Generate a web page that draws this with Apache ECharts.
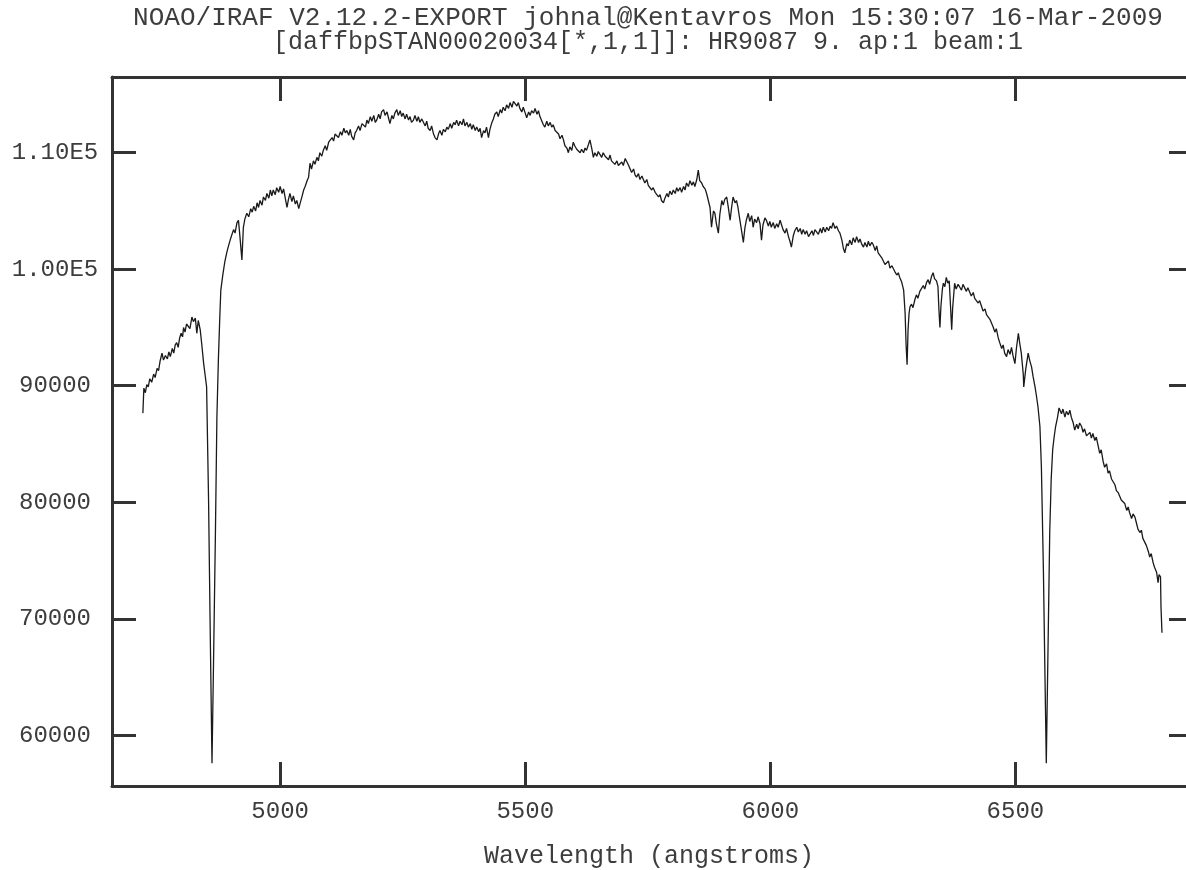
<!DOCTYPE html>
<html>
<head>
<meta charset="utf-8">
<script src="https://cdn.jsdelivr.net/npm/echarts@6/dist/echarts.min.js"></script>
<style>
  html, body { margin: 0; padding: 0; background: #ffffff; }
  #chart { width: 1186px; height: 870px; }
</style>
</head>
<body>
<div id="chart"></div>
<script>
// Header lines of the IRAF splot plot
const titleLines = [
  'NOAO/IRAF V2.12.2-EXPORT johnal@Kentavros Mon 15:30:07 16-Mar-2009',
  '[daffbpSTAN00020034[*,1,1]]: HR9087 9. ap:1 beam:1'
];
const xAxisName = 'Wavelength (angstroms)';

// Axis extents and tick positions
const xRange = [4657, 6848];
const yRange = [55648, 116498];
const xTicks = [5000, 5500, 6000, 6500];
const yTicks = [60000, 70000, 80000, 90000, 100000, 110000];

// Spectrum of HR9087: [wavelength (A), counts]
const spectrumBlue = [
  [4720,87650],[4722,89800],[4725,89400],[4728,90100],[4731,89900],[4734,90600],[4738,90300],[4742,91000],
  [4745,90700],[4749,91500],[4752,91300],[4755,92100],[4759,92800],[4762,92200],[4766,92600],[4770,92300],
  [4773,92900],[4776,92500],[4780,93200],[4783,92800],[4786,93500],[4789,93700],[4792,93300],[4795,94100],
  [4798,94500],[4801,94200],[4803,95000],[4806,94600],[4809,95300],[4813,95200],[4816,94900],[4820,95900],
  [4823,95500],[4827,95800],[4830,94500],[4833,95600],[4837,94800],[4840,93600],[4844,91900],[4847,90900],
  [4850,89900],[4854,80200],[4857,70100],[4861,57600],[4864,65900],[4868,77400],[4871,87300],[4874,92200],
  [4877,96000],[4879,98200],[4883,99500],[4887,100600],[4891,101400],[4894,101900],[4898,102500],[4901,102900],
  [4905,103400],[4908,103100],[4912,104000],[4915,104200],[4918,102800],[4922,100800],[4925,103600],[4928,104300],
  [4932,104800],[4936,104500],[4940,105200],[4943,104900],[4946,105400],[4950,105000],[4953,105700],[4956,105300],
  [4959,105900],[4963,105500],[4966,106200],[4970,105900],[4973,106500],[4977,106100],[4980,106800],[4983,106300],
  [4986,106800],[4990,106400],[4993,107000],[4997,106600],[5000,107100],[5004,106500],[5007,106900],[5010,106200],
  [5014,105300],[5017,106000],[5020,106500],[5024,105800],[5027,106300],[5031,105600],[5034,105900],[5038,105200],
  [5041,105700],[5045,106300],[5048,106800],[5051,107100],[5055,107600],[5058,107900],[5061,109100],[5064,108600],
  [5068,109300],[5071,109000],[5075,109600],[5078,109300],[5081,110000],[5085,109700],[5088,110200],[5092,110600],
  [5095,110200],[5099,110900],[5102,110800],[5106,111300],[5109,111000],[5112,111600],[5116,111700],[5119,111300],
  [5123,111800],[5126,111500],[5130,112100],[5133,111700],[5136,111900],[5140,111500],[5143,112000],[5146,111400],
  [5150,111100],[5153,111700],[5156,111900],[5160,112300],[5163,111900],[5167,112500],[5170,112600],[5174,112200],
  [5177,112800],[5180,112500],[5184,113100],[5187,112700],[5191,113200],[5194,112600],[5197,112800],[5201,113300],
  [5204,112900],[5207,113500],[5211,113700],[5214,113200],[5218,113500],[5221,113000],[5224,112500],[5228,113200],
  [5231,112900],[5234,113400],[5238,113700],[5241,113200],[5245,113600],[5248,113100],[5251,113400],[5255,112900],
  [5258,113300],[5262,112800],[5265,113100],[5268,112600],[5272,112800],[5275,113200],[5279,112700],[5282,113100],
  [5285,112600],[5289,112900],[5292,112800],[5296,112300],[5299,112700]
];
const spectrumMid = [
  [5302,112100],[5306,111900],[5309,112300],[5313,111600],[5316,111300],[5320,111100],[5323,111600],[5326,111900],
  [5330,111500],[5333,112000],[5337,111800],[5340,112200],[5343,112000],[5347,112500],[5350,112100],[5354,112600],
  [5357,112400],[5360,112800],[5364,112300],[5367,112700],[5371,112400],[5374,112900],[5377,112300],[5381,112600],
  [5384,112200],[5388,112500],[5391,112000],[5394,112400],[5398,111900],[5401,112200],[5405,111800],[5408,112100],
  [5411,111300],[5415,111900],[5418,111700],[5421,112200],[5425,111300],[5428,112000],[5432,112600],[5435,112900],
  [5438,113300],[5442,113500],[5445,113100],[5449,113700],[5452,113400],[5455,113900],[5459,113600],[5462,114100],
  [5466,113800],[5469,114300],[5473,113900],[5476,114400],[5479,114500],[5483,114000],[5486,114300],[5489,113800],
  [5493,113500],[5496,113900],[5500,113400],[5503,113000],[5507,113500],[5510,113200],[5513,113600],[5517,113400],
  [5520,113800],[5524,113300],[5527,113600],[5530,113100],[5534,112700],[5537,112400],[5540,112200],[5544,112700],
  [5547,112300],[5551,112600],[5554,112200],[5557,112400],[5561,111900],[5564,111900],[5568,111600],[5571,111200],
  [5575,111500],[5578,111100],[5581,110600],[5585,110400],[5588,110000],[5591,110500],[5595,110200],[5598,110900],
  [5601,110600],[5605,110300],[5608,110400],[5612,110000],[5615,110300],[5619,110000],[5622,110400],[5625,110200],
  [5629,110700],[5632,111100],[5636,110300],[5639,109600],[5642,110000],[5646,109700],[5649,110100],[5653,110000],
  [5656,109600],[5659,110000],[5663,109700],[5666,109800],[5670,109400],[5673,109800],[5676,109300],[5680,109400],
  [5683,109000],[5687,109300],[5690,108900],[5693,108800],[5697,109200],[5700,108900],[5704,109500],[5707,109400],
  [5711,108900],[5714,108600],[5717,108300],[5721,108600],[5724,108100],[5727,107900],[5731,108200],[5734,107700],
  [5738,108000],[5741,107700],[5744,107400],[5748,107700],[5751,107200],[5755,107100],[5758,106800],[5761,107000],
  [5765,106600],[5768,106500],[5772,106200],[5775,106400],[5778,105900],[5782,105700],[5785,106100],[5789,106500],
  [5792,106200],[5795,106700],[5799,106400],[5802,106800],[5806,106500],[5809,107000],[5812,106700],[5816,107000],
  [5819,106600],[5823,107100],[5826,106800],[5829,107400],[5833,107100],[5836,107600],[5840,107200],[5843,107500],
  [5846,107100],[5850,107700],[5853,108500],[5856,107600],[5860,107400],[5863,107100],[5867,106900],[5870,106500],
  [5873,106500],[5877,105300],[5880,103600],[5884,105000],[5887,104800],[5890,103900],[5894,103100],[5897,104700],
  [5901,105900],[5904,105500],[5907,106000],[5911,106200],[5914,105400],[5918,104200],[5921,105300],[5924,106200],
  [5928,105700],[5931,105900],[5934,105300],[5938,104200],[5941,103400],[5945,102300],[5948,103500],[5951,104200],
  [5955,104800],[5958,104100],[5962,104600],[5965,103600],[5968,104300],[5972,104000],[5975,104500],[5979,103900],
  [5982,102500],[5985,103800],[5989,104400],[5992,104200],[5996,103700],[5999,104100]
];
const spectrumRed = [
  [6002,103600],[6006,104000],[6009,103500],[6013,103900],[6016,103600],[6020,104200],[6023,103800],[6026,103400],
  [6030,103100],[6033,103500],[6037,102800],[6040,102400],[6043,101900],[6047,102900],[6050,103300],[6054,103600],
  [6057,103200],[6061,103500],[6064,103000],[6067,103400],[6071,103000],[6074,103300],[6078,102800],[6081,102900],
  [6085,103300],[6088,102900],[6091,103400],[6095,103400],[6098,103000],[6102,103500],[6105,103100],[6108,103600],
  [6112,103200],[6115,103600],[6119,103300],[6122,103700],[6125,103500],[6128,104000],[6132,103500],[6135,103700],
  [6139,103300],[6142,103100],[6146,102500],[6149,101800],[6152,101400],[6156,102200],[6159,102000],[6162,102500],
  [6166,102100],[6169,102700],[6173,102300],[6176,102800],[6180,102300],[6183,102600],[6186,102200],[6190,101900],
  [6193,102300],[6197,101900],[6200,102400],[6203,102000],[6207,102300],[6210,102100],[6214,101600],[6217,102000],
  [6220,101400],[6224,101400],[6227,101000],[6231,100900],[6234,100400],[6237,100500],[6241,100700],[6244,100100],
  [6248,100300],[6251,100200],[6254,99800],[6258,99500],[6261,99700],[6264,99300],[6268,98900],[6272,98200],
  [6275,96200],[6277,93500],[6279,91800],[6281,94800],[6283,96200],[6285,96800],[6288,97000],[6291,96700],
  [6295,97400],[6298,97800],[6301,97500],[6305,98100],[6309,98200],[6312,98600],[6315,98300],[6319,98900],
  [6322,99100],[6325,98700],[6329,99400],[6332,99700],[6335,99200],[6339,99000],[6342,98500],[6344,96500],
  [6346,95000],[6348,96800],[6351,98300],[6353,98800],[6356,98500],[6359,99300],[6362,98800],[6365,99000],
  [6368,96500],[6370,94800],[6372,96700],[6376,98800],[6379,98300],[6383,98700],[6386,98500],[6390,98200],
  [6393,98700],[6397,98800],[6400,98100],[6403,98400],[6407,98000],[6410,97700],[6414,98000],[6417,97500],
  [6421,97600],[6424,97100],[6427,97300],[6431,96800],[6434,96400],[6438,96600],[6441,96100],[6444,96200],
  [6448,95700],[6451,95400],[6455,95000],[6458,94600],[6461,94900],[6465,94100],[6468,93700],[6472,93200],
  [6475,93500],[6478,92800],[6482,92500],[6485,93100],[6489,92700],[6492,93300],[6495,92600],[6499,91900],
  [6502,93200],[6506,94500],[6509,93600],[6512,92800],[6516,91000],[6517,89900],[6521,91400],[6526,92800],
  [6529,92200],[6533,91600],[6536,90800],[6540,89900],[6543,89100],[6546,88200],[6550,86500],[6553,83000],
  [6557,74400],[6560,65900],[6563,57600],[6567,68800],[6570,77400],[6573,82000],[6576,84500],[6579,85600],
  [6582,86500],[6586,87300],[6589,88100],[6591,88200],[6594,87600],[6597,88000],[6601,87300],[6604,87800],
  [6608,87500],[6611,87900],[6614,87300],[6618,86800],[6621,86200],[6625,86700],[6628,86300],[6631,86800],
  [6635,86500],[6638,86000],[6641,86300],[6645,85700],[6648,85600],[6652,86000],[6655,85500],[6658,85900],
  [6662,85300],[6665,85600],[6669,84800],[6672,84200],[6675,84500],[6679,83500],[6682,83000],[6686,83300],
  [6689,82500],[6692,82700],[6696,82000],[6699,81900],[6703,81500],[6706,81000],[6710,80800],[6713,80900],
  [6716,80200],[6720,80200],[6723,79900],[6727,79300],[6730,79600],[6733,79100],[6737,78600],[6740,79000],
  [6744,78700],[6747,78200],[6750,77700],[6754,77400],[6757,77600],[6760,76900],[6764,76800],[6767,76300],
  [6771,75800],[6774,75300],[6777,75600],[6781,74800],[6784,74400],[6788,74000],[6791,73100],[6793,73800],
  [6796,73600],[6797,71000],[6799,68800]
];

const spectrum = spectrumBlue.concat(spectrumMid, spectrumRed);

const FONT = 'Liberation Mono';
const INK = '#333333';
const TEXT = '#3d3d3d';

const frameLine = { lineStyle: { color: INK, width: 3 } };
const frameTick = (vals) => ({
  inside: true, length: 24, customValues: vals,
  lineStyle: { color: INK, width: 3 }
});

function yLabel(v) {
  return v >= 100000 ? (v / 100000).toFixed(2) + 'E5' : String(v);
}

const chart = echarts.init(document.getElementById('chart'), null, { renderer: 'canvas' });

chart.setOption({
  animation: false,
  backgroundColor: '#ffffff',
  grid: {
    left: 112, top: 77, right: 0, bottom: 84,
    containLabel: false, outerBoundsMode: 'none'
  },
  xAxis: [
    {
      type: 'value', position: 'bottom', min: xRange[0], max: xRange[1],
      axisLine: frameLine, axisTick: frameTick(xTicks), splitLine: { show: false },
      axisLabel: {
        customValues: xTicks, formatter: (v) => String(v), margin: 14,
        color: TEXT, fontFamily: FONT, fontSize: 24
      },
      name: xAxisName, nameLocation: 'middle', nameGap: 58,
      nameTextStyle: { color: TEXT, fontFamily: FONT, fontSize: 25 }
    },
    {
      type: 'value', position: 'top', min: xRange[0], max: xRange[1],
      axisLine: frameLine, axisTick: frameTick(xTicks), splitLine: { show: false },
      axisLabel: { show: false }
    }
  ],
  yAxis: [
    {
      type: 'value', position: 'left', min: yRange[0], max: yRange[1],
      axisLine: frameLine, axisTick: frameTick(yTicks), splitLine: { show: false },
      axisLabel: {
        customValues: yTicks, formatter: yLabel, align: 'center', margin: 57,
        color: TEXT, fontFamily: FONT, fontSize: 24
      }
    },
    {
      // right frame edge lies just past the canvas edge; only its inward ticks show
      type: 'value', position: 'right', offset: 7, min: yRange[0], max: yRange[1],
      axisLine: { show: false }, axisTick: frameTick(yTicks), splitLine: { show: false },
      axisLabel: { show: false }
    }
  ],
  graphic: titleLines.map((line, i) => ({
    type: 'text', x: 648, y: 18 + i * 24,
    style: {
      text: line, fill: TEXT, font: (i === 0 ? 26 : 25) + 'px "' + FONT + '"',
      textAlign: 'center', textVerticalAlign: 'middle'
    }
  })),
  series: [{
    type: 'line',
    data: spectrum,
    showSymbol: false,
    symbol: 'none',
    sampling: null,
    clip: true,
    lineStyle: { color: '#1a1a1a', width: 1.3 }
  }]
});
</script>
</body>
</html>
